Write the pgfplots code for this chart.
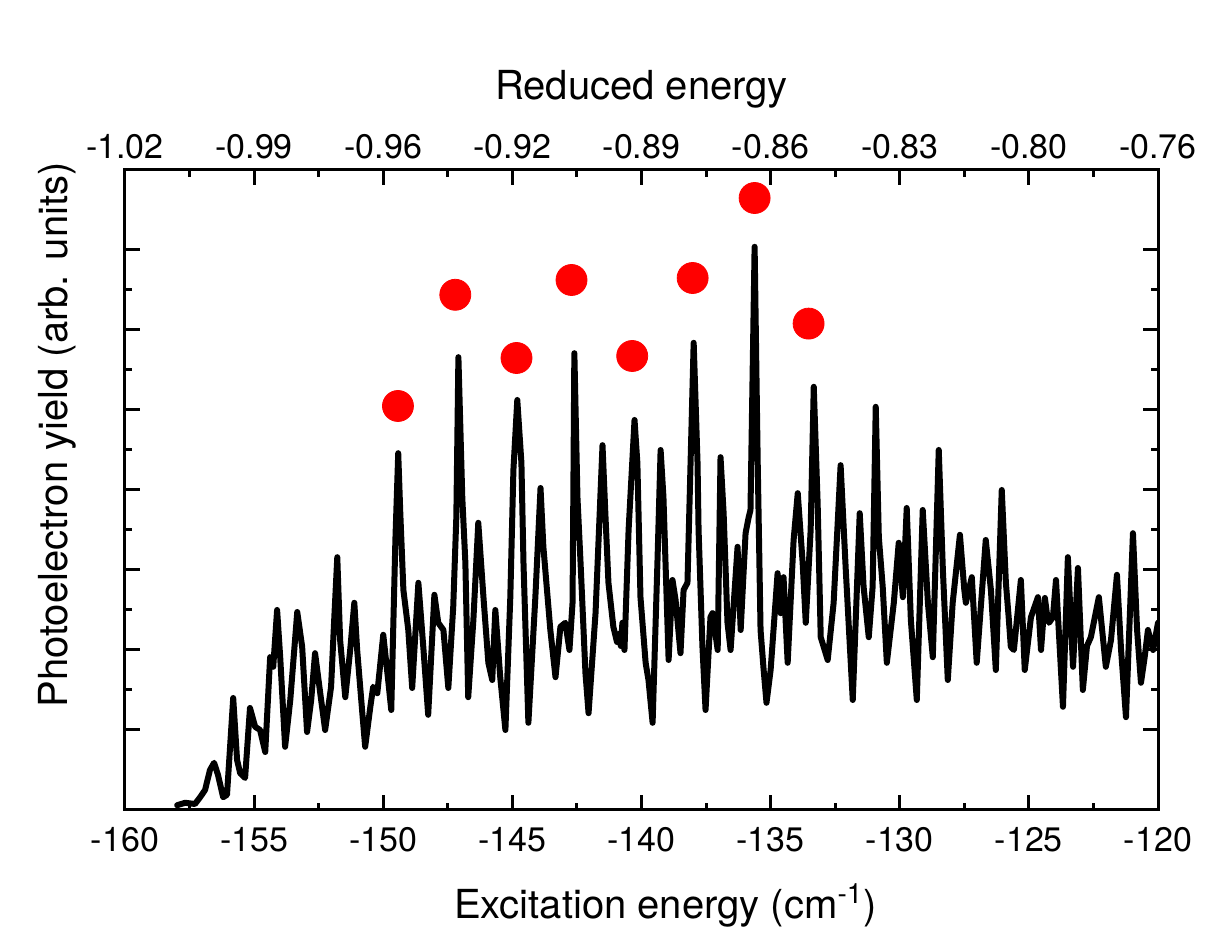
\documentclass[border=0pt]{standalone}
\usepackage{fontspec}
\setmainfont{TeX Gyre Heros}
\usepackage{pgfplots}
\pgfplotsset{compat=1.18}

% spectrum (x in cm^-1, y in arb. units, 0..8)
\pgfplotstableread{
x y
-157.98 0.06
-157.67 0.09
-157.29 0.075
-157.09 0.16
-156.90 0.25
-156.71 0.50
-156.55 0.59
-156.40 0.44
-156.20 0.16
-156.05 0.19
-155.81 1.40
-155.66 0.625
-155.54 0.46
-155.35 0.40
-155.16 1.275
-154.96 1.04
-154.77 1.00
-154.57 0.725
-154.38 1.91
-154.26 1.79
-154.11 2.50
-153.99 1.91
-153.80 0.79
-153.60 1.375
-153.33 2.475
-153.14 2.04
-152.95 0.975
-152.79 1.375
-152.64 1.96
-152.44 1.46
-152.25 1.00
-152.02 1.54
-151.90 2.375
-151.78 3.16
-151.67 2.125
-151.47 1.41
-151.28 2.00
-151.12 2.59
-151.01 2.00
-150.81 1.21
-150.70 0.79
-150.50 1.29
-150.39 1.54
-150.23 1.46
-150.00 2.19
-149.81 1.625
-149.69 1.25
-149.53 3.375
-149.42 4.46
-149.34 3.71
-149.22 2.75
-149.03 2.25
-148.88 1.525
-148.64 2.84
-148.45 2.04
-148.26 1.19
-148.02 2.69
-147.87 2.34
-147.67 2.25
-147.48 1.525
-147.29 2.54
-147.17 3.66
-147.09 5.66
-146.94 3.91
-146.82 3.09
-146.71 1.41
-146.51 2.375
-146.32 3.59
-146.12 2.66
-145.93 1.84
-145.78 1.625
-145.66 2.50
-145.47 1.66
-145.27 1.00
-145.08 2.66
-144.96 4.25
-144.81 5.125
-144.65 4.34
-144.57 3.09
-144.38 1.09
-144.11 2.66
-143.91 4.025
-143.80 3.29
-143.53 2.25
-143.33 1.66
-143.14 2.29
-142.95 2.34
-142.79 2.00
-142.67 2.59
-142.60 5.71
-142.48 3.91
-142.36 3.09
-142.17 1.71
-142.05 1.21
-141.78 2.46
-141.51 4.56
-141.40 3.71
-141.28 2.84
-141.09 2.29
-140.95 2.10
-140.89 2.20
-140.80 2.05
-140.74 2.34
-140.66 2.00
-140.50 3.50
-140.27 4.875
-140.16 4.34
-140.04 2.66
-139.84 1.84
-139.73 1.625
-139.57 1.09
-139.38 3.125
-139.26 4.50
-139.15 3.91
-139.07 3.09
-138.95 1.875
-138.80 2.875
-138.68 2.625
-138.49 1.96
-138.37 2.75
-138.22 2.84
-138.10 4.34
-137.98 5.84
-137.83 4.34
-137.79 3.50
-137.64 2.04
-137.52 1.25
-137.33 2.41
-137.25 2.46
-137.05 2.00
-137.02 2.66
-136.94 4.41
-136.82 3.71
-136.67 2.34
-136.55 2.00
-136.28 3.29
-136.16 2.25
-135.97 3.46
-135.85 3.66
-135.78 3.75
-135.62 7.04
-135.50 4.34
-135.39 2.25
-135.27 1.75
-135.16 1.34
-135.00 1.75
-134.73 2.96
-134.61 2.46
-134.50 2.91
-134.34 1.84
-134.11 3.375
-133.95 3.96
-133.76 3.09
-133.64 2.34
-133.45 3.50
-133.33 5.29
-133.18 3.84
-133.06 2.16
-132.79 1.875
-132.56 2.59
-132.29 4.31
-132.09 3.00
-131.82 1.375
-131.55 3.71
-131.40 2.79
-131.20 2.16
-131.05 2.79
-130.93 5.04
-130.81 3.41
-130.66 2.79
-130.50 1.84
-130.23 2.59
-130.04 3.34
-129.88 2.66
-129.73 3.775
-129.57 2.375
-129.34 1.375
-129.11 3.75
-128.91 2.59
-128.72 1.91
-128.49 4.50
-128.33 3.00
-128.14 1.625
-127.95 2.59
-127.67 3.44
-127.50 2.75
-127.44 2.59
-127.21 2.91
-127.02 1.84
-126.67 3.375
-126.47 2.75
-126.28 1.75
-126.05 4.00
-125.89 2.84
-125.78 2.40
-125.70 2.04
-125.58 2.00
-125.31 2.875
-125.16 1.75
-124.92 2.41
-124.65 2.66
-124.53 2.00
-124.38 2.65
-124.30 2.45
-124.22 2.34
-124.07 2.41
-123.95 2.875
-123.68 1.29
-123.49 3.16
-123.29 1.79
-123.10 3.025
-122.91 1.50
-122.75 2.05
-122.60 2.16
-122.29 2.66
-122.02 1.79
-121.82 2.125
-121.59 2.94
-121.43 2.00
-121.24 1.16
-120.97 3.46
-120.81 2.25
-120.66 1.59
-120.52 1.90
-120.39 2.25
-120.19 2.00
-120.00 2.34
}\spectrum

% marked lines
\pgfplotstableread{
x y
-149.43 5.05
-147.21 6.44
-144.84 5.65
-142.71 6.625
-140.36 5.675
-138.02 6.65
-135.62 7.65
-133.53 6.08
}\dots

\begin{document}
\begin{tikzpicture}
\useasboundingbox (-62.5pt,-70.5pt) rectangle (548pt,405pt);
\begin{axis}[
  scale only axis, width=516.5pt, height=320pt,
  xmin=-160, xmax=-120, ymin=0, ymax=8,
  xtick={-160,-155,...,-120},
  xticklabels={-160,-155,-150,-145,-140,-135,-130,-125,-120},
  ytick={1,...,7}, yticklabels={},
  minor x tick num=1, minor y tick num=1,
  major tick length=7.5pt, minor tick length=3.5pt,
  axis line style={line width=1.5pt},
  every tick/.style={black, line width=1.5pt},
  tick label style={font=\fontsize{17}{20}\selectfont},
  xticklabel style={yshift=-5pt},
  label style={font=\fontsize{20}{24}\selectfont},
  xlabel={Excitation energy (cm\textsuperscript{-1})},
  xlabel style={at={(axis description cs:0.5,0)}, anchor=base,
    yshift=-54.5pt, xshift=12pt},
  ylabel={Photoelectron yield (arb. units)},
  ylabel style={at={(axis description cs:-0.066,0.586)}, anchor=center},
]
\addplot[black, line width=3pt, line join=round, line cap=round, mark=none] table {\spectrum};
\addplot[only marks, mark=*, mark size=7.75pt, red, draw=red, fill=red] table {\dots};
\end{axis}
\begin{axis}[
  scale only axis, width=516.5pt, height=320pt,
  xmin=-160, xmax=-120, ymin=0, ymax=8,
  xtick={-160,-155,...,-120},
  xticklabels={-1.02,-0.99,-0.96,-0.92,-0.89,-0.86,-0.83,-0.80,-0.76},
  xticklabel pos=upper, ytick=\empty,
  axis line style={draw=none}, xtick style={draw=none},
  tick label style={font=\fontsize{17}{20}\selectfont},
  xticklabel style={yshift=2pt},
  xlabel={Reduced energy},
  xlabel style={font=\fontsize{20}{24}\selectfont,
    at={(axis description cs:0.5,1)}, anchor=base, yshift=35pt},
]
\end{axis}
\end{tikzpicture}
\end{document}
